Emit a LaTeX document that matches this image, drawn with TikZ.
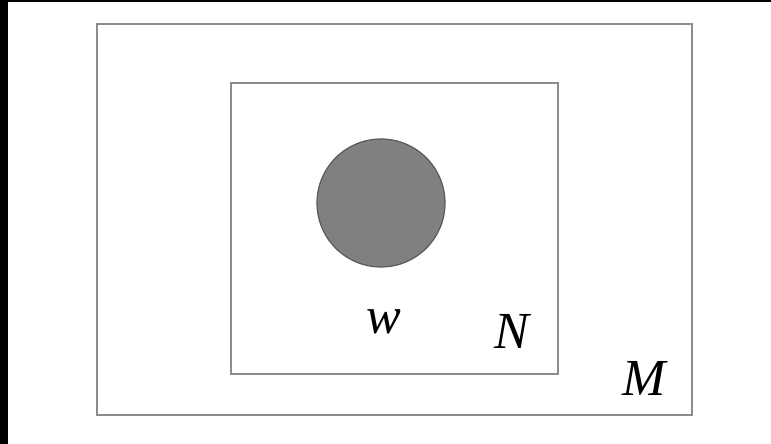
\documentclass[tikz,border=0pt]{standalone}
\usepackage{fontspec}
\setmainfont{Liberation Serif}
\definecolor{frame}{HTML}{8C8C8C}
\definecolor{discfill}{HTML}{808080}
\definecolor{discline}{HTML}{5A5A5A}
\begin{document}
\begin{tikzpicture}[x=1pt,y=1pt,
  plate/.style={draw=frame,line width=1.6pt},
  lbl/.style={font=\fontsize{52}{52}\selectfont\itshape,inner sep=0pt},
  disc/.style={circle,fill=discfill,draw=discline,line width=1.2pt,minimum size=128pt,inner sep=0pt}]
\useasboundingbox (0,0) rectangle (771,444);
\fill[white] (0,0) rectangle (771,444);
\fill[black] (0,0) rectangle (8,444);
\fill[black] (0,442) rectangle (771,444);
\draw[plate] (97,420) rectangle (692,29);
\draw[plate] (231,361) rectangle (558,70);
\node[disc] (w) at (381,241) {};
\node[lbl] (wl) at (384,122) {w};
\node[lbl] (nl) at (512,113) {N};
\node[lbl] (ml) at (644,66) {M};
\end{tikzpicture}
\end{document}
